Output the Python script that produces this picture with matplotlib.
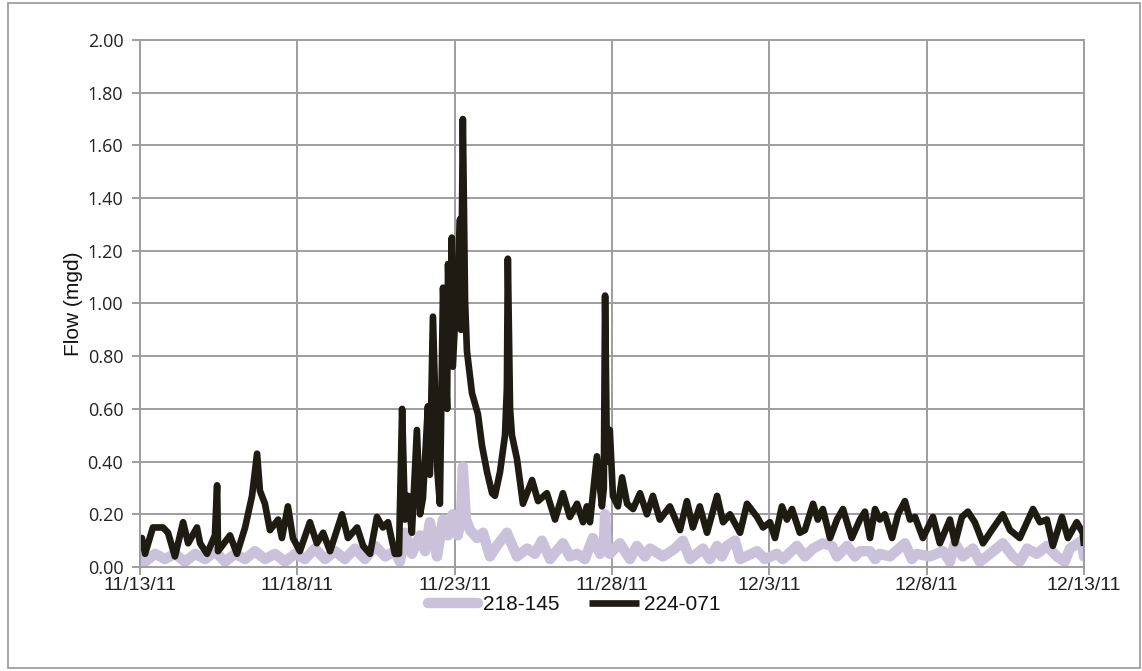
import matplotlib
matplotlib.use("Agg")
import matplotlib.pyplot as plt
from matplotlib.patches import Rectangle
import numpy as np
import pandas as pd

START = pd.Timestamp("2011-11-13")

# days after 11/13/11 and flow (mgd)
days_224 = [0.00, 0.06, 0.16, 0.41, 0.73, 0.89, 1.11, 1.37, 1.53, 1.81, 1.91, 2.13, 2.38, 2.45, 2.48,
            2.86, 3.08, 3.34, 3.56, 3.72, 3.81, 3.97, 4.13, 4.39, 4.51, 4.70, 4.86, 5.08, 5.40, 5.62,
            5.82, 6.04, 6.42, 6.61, 6.90, 7.09, 7.31, 7.53, 7.72, 7.88, 8.10, 8.23, 8.33, 8.42, 8.52,
            8.64, 8.80, 8.90, 8.99, 9.15, 9.21, 9.31, 9.44, 9.53, 9.63, 9.76, 9.79, 9.85, 9.91, 9.94,
            10.04, 10.10, 10.17, 10.20, 10.26, 10.33, 10.39, 10.55, 10.74, 10.87, 11.03, 11.19, 11.28,
            11.44, 11.60, 11.66, 11.69, 11.76, 11.82, 11.98, 12.17, 12.46, 12.65, 12.93, 13.19, 13.44,
            13.66, 13.89, 14.08, 14.20, 14.30, 14.52, 14.68, 14.74, 14.78, 14.84, 14.93, 15.03, 15.19,
            15.32, 15.48, 15.67, 15.89, 16.11, 16.30, 16.52, 16.84, 17.16, 17.38, 17.57, 17.79, 18.02,
            18.34, 18.53, 18.75, 19.07, 19.29, 19.61, 19.80, 20.02, 20.18, 20.40, 20.56, 20.72, 20.97,
            21.13, 21.39, 21.54, 21.70, 21.93, 22.15, 22.34, 22.62, 22.88, 23.04, 23.20, 23.36, 23.51,
            23.67, 23.90, 24.09, 24.31, 24.47, 24.63, 24.88, 25.20, 25.42, 25.74, 25.90, 26.12, 26.31,
            26.53, 26.79, 27.07, 27.42, 27.65, 27.96, 28.38, 28.60, 28.82, 29.01, 29.30, 29.49, 29.77,
            29.96, 30.00]
flow_224 = [0.10, 0.11, 0.05, 0.15, 0.15, 0.13, 0.04, 0.17, 0.09, 0.15, 0.09, 0.05, 0.12, 0.31, 0.06,
            0.12, 0.05, 0.15, 0.27, 0.43, 0.29, 0.24, 0.14, 0.18, 0.11, 0.23, 0.11, 0.06, 0.17, 0.09,
            0.13, 0.06, 0.20, 0.11, 0.15, 0.08, 0.05, 0.19, 0.15, 0.17, 0.05, 0.05, 0.60, 0.18, 0.27,
            0.13, 0.52, 0.20, 0.26, 0.61, 0.35, 0.95, 0.38, 0.24, 1.06, 0.60, 1.15, 0.80, 1.25, 0.76,
            1.00, 1.08, 1.32, 0.90, 1.70, 1.01, 0.82, 0.66, 0.58, 0.46, 0.36, 0.28, 0.27,
            0.36, 0.50, 0.68, 1.17, 0.60, 0.50, 0.41, 0.24, 0.33, 0.25, 0.28, 0.18, 0.28,
            0.19, 0.24, 0.17, 0.23, 0.17, 0.42, 0.23, 0.30, 1.03, 0.40, 0.52, 0.27, 0.23,
            0.34, 0.24, 0.22, 0.28, 0.20, 0.27, 0.18, 0.23, 0.14, 0.25, 0.15, 0.23, 0.13,
            0.27, 0.17, 0.20, 0.13, 0.24, 0.19, 0.15, 0.17, 0.11, 0.23, 0.18, 0.22, 0.13,
            0.14, 0.24, 0.18, 0.22, 0.11, 0.18, 0.22, 0.11, 0.18, 0.21, 0.11, 0.22, 0.18,
            0.20, 0.11, 0.20, 0.25, 0.18, 0.19, 0.11, 0.19, 0.09, 0.18, 0.09, 0.19, 0.21,
            0.17, 0.09, 0.14, 0.20, 0.14, 0.11, 0.22, 0.17, 0.18, 0.08, 0.19, 0.11, 0.17,
            0.13, 0.08]

days_218 = [0.00, 0.16, 0.48, 0.79, 1.11, 1.43, 1.75, 2.07, 2.38, 2.70, 3.02, 3.34, 3.65, 3.97, 4.29,
            4.61, 4.93, 5.24, 5.56, 5.88, 6.20, 6.51, 6.83, 7.15, 7.47, 7.79, 8.10, 8.26, 8.42, 8.64,
            8.90, 9.06, 9.21, 9.44, 9.63, 9.79, 9.94, 10.10, 10.20, 10.26, 10.36, 10.49, 10.71, 10.90,
            11.12, 11.34, 11.66, 11.98, 12.30, 12.55, 12.77, 13.03, 13.44, 13.66, 13.89, 14.14, 14.39,
            14.62, 14.74, 14.78, 14.84, 14.93, 15.25, 15.57, 15.79, 16.05, 16.21, 16.62, 17.00, 17.25,
            17.48, 17.89, 18.11, 18.34, 18.49, 18.65, 18.91, 19.07, 19.61, 19.86, 20.24, 20.43, 20.88,
            21.13, 21.39, 21.70, 21.99, 22.15, 22.47, 22.72, 22.88, 23.20, 23.36, 23.51, 23.83, 24.31,
            24.53, 24.69, 25.10, 25.52, 25.74, 25.90, 26.15, 26.47, 26.69, 26.91, 27.42, 27.74, 27.96,
            28.19, 28.50, 28.82, 29.14, 29.39, 29.55, 29.93, 30.00]
flow_218 = [0.03, 0.02, 0.05, 0.03, 0.05, 0.02, 0.05, 0.03, 0.06, 0.02, 0.05, 0.03, 0.06, 0.03, 0.05,
            0.02, 0.05, 0.03, 0.07, 0.03, 0.06, 0.03, 0.07, 0.03, 0.08, 0.04, 0.06, 0.02, 0.13, 0.05,
            0.12, 0.06, 0.17, 0.04, 0.18, 0.12, 0.20, 0.12, 0.18, 0.38, 0.18, 0.14, 0.11, 0.13,
            0.04, 0.08, 0.13, 0.04, 0.07, 0.05, 0.10, 0.03, 0.09, 0.04, 0.05, 0.03, 0.11,
            0.05, 0.08, 0.20, 0.06, 0.05, 0.09, 0.03, 0.08, 0.04, 0.07, 0.04, 0.07, 0.10,
            0.03, 0.07, 0.03, 0.08, 0.04, 0.08, 0.10, 0.03, 0.06, 0.03, 0.05, 0.03, 0.08,
            0.04, 0.07, 0.09, 0.08, 0.04, 0.08, 0.04, 0.06, 0.06, 0.03, 0.05, 0.04, 0.09,
            0.03, 0.05, 0.04, 0.06, 0.02, 0.09, 0.04, 0.07, 0.02, 0.04, 0.09, 0.04, 0.02,
            0.07, 0.05, 0.08, 0.04, 0.02, 0.07, 0.10, 0.04]

series_names = ["218-145", "224-071"]
series_colors = ["#cac1db", "#1e1c12"]

t_224 = START + pd.to_timedelta(days_224, unit="D")
t_218 = START + pd.to_timedelta(days_218, unit="D")

plt.rcParams["font.family"] = ["Liberation Sans", "DejaVu Sans"]

fig = plt.figure(figsize=(11.42, 6.71), dpi=100)
ax = fig.add_axes([0.1226, 0.155, 0.9492 - 0.1226, 0.9404 - 0.155])

ax.plot(t_218, flow_218, color=series_colors[0], lw=7.5, solid_joinstyle="round",
        solid_capstyle="round", label=series_names[0])
ax.plot(t_224, flow_224, color=series_colors[1], lw=4.8, solid_joinstyle="round",
        solid_capstyle="butt", label=series_names[1])

ax.set_ylim(0, 2.0)
ax.set_xlim(START, START + pd.Timedelta(days=30))
ax.set_yticks(np.arange(0, 2.01, 0.2))
ax.yaxis.set_major_formatter(matplotlib.ticker.FormatStrFormatter("%.2f"))
xt = [START + pd.Timedelta(days=5 * i) for i in range(7)]
ax.set_xticks(xt)
ax.set_xticklabels([f"{d.month}/{d.day}/{d.strftime('%y')}" for d in xt])

ax.grid(True, color="#9e9e9e", lw=1.4)
ax.set_axisbelow(True)
for s in ax.spines.values():
    s.set_color("#9e9e9e")
    s.set_linewidth(1.4)
ax.tick_params(axis="both", colors="#9e9e9e", length=6, width=1.4, labelcolor="#222222")
ax.tick_params(axis="x", pad=1, labelsize=14)
ax.tick_params(axis="y", pad=6)
for lab in ax.get_yticklabels():
    lab.set_family(["Open Sans", "DejaVu Sans"])
    lab.set_fontsize(13)

ax.set_ylabel("Flow (mgd)", fontsize=15, labelpad=3, color="#111111")

leg = fig.legend(loc="center", bbox_to_anchor=(0.503, 0.099), ncol=2, frameon=False,
                 fontsize=15, handlelength=2.4, handletextpad=0.25, columnspacing=1.4)
for txt in leg.get_texts():
    txt.set_color("#111111")

fig.patches.append(Rectangle((8 / 1142, 3 / 671), 1132 / 1142, 665 / 671,
                             transform=fig.transFigure, fill=False,
                             edgecolor="#9e9e9e", lw=1.3))

fig.savefig("out.png", dpi=100)
